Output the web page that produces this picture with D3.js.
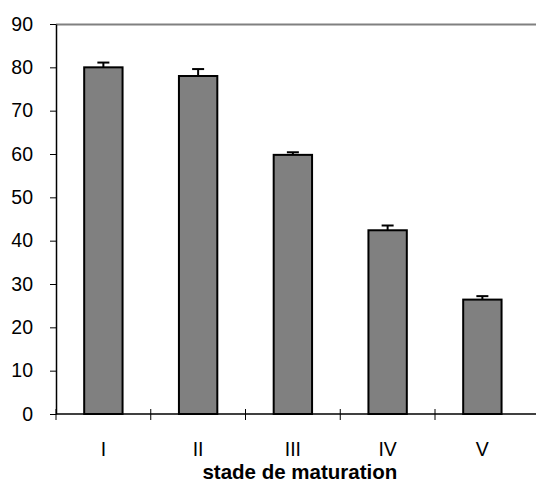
<!DOCTYPE html>
<html>
<head>
<meta charset="utf-8">
<script src="https://cdn.jsdelivr.net/npm/d3@7"></script>
<style>
html,body{margin:0;padding:0;background:#fff;}
svg{display:block;font-family:"Liberation Sans",Arial,sans-serif;}
</style>
</head>
<body>
<svg id="chart" width="536" height="483"></svg>
<script>
const categories = ["I", "II", "III", "IV", "V"];
const values = [80.0, 78.0, 59.8, 42.4, 26.4];
const errors = [1.1, 1.6, 0.6, 1.1, 0.8];
const yTicks = [0, 10, 20, 30, 40, 50, 60, 70, 80, 90];
const xTitle = "stade de maturation";

const svg = d3.select("#chart");
const mLeft = 56, mRight = 529.75, mTop = 24, mBottom = 414;

const x = d3.scaleBand().domain(categories).range([mLeft, mRight]).paddingInner(0).paddingOuter(0);
const y = d3.scaleLinear().domain([0, 90]).range([mBottom, mTop]);

// top plot-area border (gray)
svg.append("line").attr("x1", mLeft).attr("x2", 536).attr("y1", mTop + 0.5).attr("y2", mTop + 0.5)
  .attr("stroke", "#808080").attr("stroke-width", 2);

// bars
const bw = x.bandwidth() * 0.405;
svg.append("g").selectAll("rect").data(categories).join("rect")
  .attr("x", d => x(d) + (x.bandwidth() - bw) / 2)
  .attr("y", (d, i) => y(values[i]))
  .attr("width", bw)
  .attr("height", (d, i) => y(0) - y(values[i]))
  .attr("fill", "#808080")
  .attr("stroke", "#000")
  .attr("stroke-width", 2);

// error bars (upper only)
const eg = svg.append("g").attr("stroke", "#000").attr("stroke-width", 2);
categories.forEach((c, i) => {
  const cx = x(c) + x.bandwidth() / 2;
  eg.append("line").attr("x1", cx).attr("x2", cx).attr("y1", y(values[i])).attr("y2", y(values[i] + errors[i]));
  eg.append("line").attr("x1", cx - 6).attr("x2", cx + 6).attr("y1", y(values[i] + errors[i])).attr("y2", y(values[i] + errors[i]));
});

// y axis
const yAxis = d3.axisLeft(y).tickValues(yTicks).tickSize(6).tickPadding(17).tickSizeOuter(0);
const ya = svg.append("g").attr("transform", `translate(${mLeft},0)`).call(yAxis);
ya.select(".domain").attr("stroke", "#000").attr("stroke-width", 1.5);
ya.selectAll(".tick line").attr("stroke", "#000");
ya.selectAll("text").attr("font-size", 19.5).attr("fill", "#000").attr("font-family", "Liberation Sans, Arial, sans-serif");

// x axis line
svg.append("line").attr("x1", mLeft).attr("x2", 536).attr("y1", mBottom).attr("y2", mBottom)
  .attr("stroke", "#000").attr("stroke-width", 1.5);
// x ticks at category boundaries (crossing)
const bounds = categories.map(c => x(c));
svg.append("g").selectAll("line").data(bounds).join("line")
  .attr("x1", d => d).attr("x2", d => d)
  .attr("y1", mBottom - 5).attr("y2", mBottom + 6)
  .attr("stroke", "#000").attr("stroke-width", 1);

// x labels
svg.append("g").selectAll("text").data(categories).join("text")
  .attr("x", d => x(d) + x.bandwidth() / 2)
  .attr("y", 456)
  .attr("text-anchor", "middle")
  .attr("font-size", 19.5)
  .text(d => d);

// x title
svg.append("text")
  .attr("x", (mLeft + mRight) / 2 + 7)
  .attr("y", 478.5)
  .attr("text-anchor", "middle")
  .attr("font-size", 20.5)
  .attr("font-weight", "bold")
  .text(xTitle);
</script>
</body>
</html>
